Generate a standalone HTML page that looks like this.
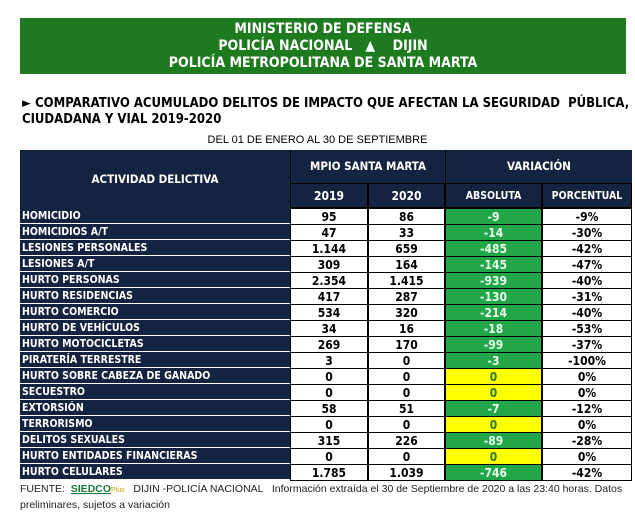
<!DOCTYPE html><html><head><style>
body{margin:0;width:635px;height:507px;background:#fff;font-family:"DejaVu Sans Condensed","Liberation Sans",sans-serif;position:relative;overflow:hidden}
.a{position:absolute}
.hdr{left:20px;top:18px;width:606px;height:56px;background:#1e7a1e;color:#fff;font-weight:bold;font-size:14px;text-align:center;line-height:17px;padding-top:3px;box-sizing:border-box}
.t{font-weight:bold;font-size:13px;left:22px;top:96px;line-height:16px;color:#000}
.c{position:absolute;box-sizing:border-box;font-weight:bold;font-size:12px;text-align:center;line-height:16px}
.d{background:#14233f;color:#fff}
.lab{text-align:left;padding-left:2px;font-size:10.5px}
</style></head><body>
<div class="a hdr">MINISTERIO DE DEFENSA<br>POLICÍA NACIONAL &nbsp;&nbsp;▲&nbsp;&nbsp;&nbsp; DIJIN<br>POLICÍA METROPOLITANA DE SANTA MARTA</div>
<div class="a t">► COMPARATIVO ACUMULADO DELITOS DE IMPACTO QUE AFECTAN LA SEGURIDAD &nbsp;PÚBLICA,<br>CIUDADANA Y VIAL 2019-2020</div>
<div class="a" style="left:0;width:635px;top:134px;text-align:center;font-size:11px;font-family:'Liberation Sans Narrow','Liberation Sans',sans-serif">DEL 01 DE ENERO AL 30 DE SEPTIEMBRE</div>
<div class="c d" style="left:20px;top:150px;width:270px;height:58px;line-height:58px;font-size:11.5px">ACTIVIDAD DELICTIVA</div>
<div class="c d" style="left:290px;top:150px;width:155px;height:33px;line-height:33px;border-left:1px solid #000;font-size:11.5px">MPIO SANTA MARTA</div>
<div class="c d" style="left:445px;top:150px;width:187px;height:33px;line-height:33px;border-left:1px solid #000;font-size:11.5px">VARIACIÓN</div>
<div class="c d" style="left:290px;top:183px;width:78px;height:25px;line-height:25px;border:1px solid #000">2019</div>
<div class="c d" style="left:368px;top:183px;width:77px;height:25px;line-height:25px;border:1px solid #000">2020</div>
<div class="c d" style="left:445px;top:183px;width:97px;height:25px;line-height:25px;border:1px solid #000;font-size:10.5px">ABSOLUTA</div>
<div class="c d" style="left:542px;top:183px;width:90px;height:25px;line-height:25px;border:1px solid #000;font-size:10.5px">PORCENTUAL</div>
<div id="rows"></div>
<div class="a" style="left:20px;top:482px;font-size:10.5px;line-height:14px;color:#222;font-family:'Liberation Sans Narrow','Liberation Sans',sans-serif;width:612px">FUENTE: &nbsp;<b style="color:#1a7a3a;text-decoration:underline">SIEDCO</b><span style="color:#c9a000;font-size:7px">Plus</span> &nbsp; DIJIN -POLICÍA NACIONAL &nbsp; Información extraída el 30 de Septiembre de 2020 a las 23:40 horas. Datos preliminares, sujetos a variación</div>
<script>
var R=[["HOMICIDIO","95","86","-9","-9%"],["HOMICIDIOS A/T","47","33","-14","-30%"],["LESIONES PERSONALES","1.144","659","-485","-42%"],["LESIONES A/T","309","164","-145","-47%"],["HURTO PERSONAS","2.354","1.415","-939","-40%"],["HURTO RESIDENCIAS","417","287","-130","-31%"],["HURTO COMERCIO","534","320","-214","-40%"],["HURTO DE VEHÍCULOS","34","16","-18","-53%"],["HURTO MOTOCICLETAS","269","170","-99","-37%"],["PIRATERÍA TERRESTRE","3","0","-3","-100%"],["HURTO SOBRE CABEZA DE GANADO","0","0","0","0%"],["SECUESTRO","0","0","0","0%"],["EXTORSIÓN","58","51","-7","-12%"],["TERRORISMO","0","0","0","0%"],["DELITOS SEXUALES","315","226","-89","-28%"],["HURTO ENTIDADES FINANCIERAS","0","0","0","0%"],["HURTO CELULARES","1.785","1.039","-746","-42%"]];
var h="";R.forEach(function(r,i){var y=208+i*16;var z=r[3]=="0";
h+='<div class="c d lab" style="left:20px;top:'+y+'px;width:270px;height:16px;border-bottom:1px solid #fff">'+r[0]+'</div>';
h+='<div class="c" style="left:290px;top:'+y+'px;width:78px;height:17px;border:1px solid #000">'+r[1]+'</div>';
h+='<div class="c" style="left:368px;top:'+y+'px;width:77px;height:17px;border:1px solid #000">'+r[2]+'</div>';
h+='<div class="c" style="left:445px;top:'+y+'px;width:97px;height:17px;border:1px solid #000;background:'+(z?'#ffff00;color:#2a7a2a':'#22a64a;color:#e8ffe8')+'">'+r[3]+'</div>';
h+='<div class="c" style="left:542px;top:'+y+'px;width:90px;height:17px;border:1px solid #000">'+r[4]+'</div>';});
document.getElementById("rows").innerHTML=h;
</script>
</body></html>
